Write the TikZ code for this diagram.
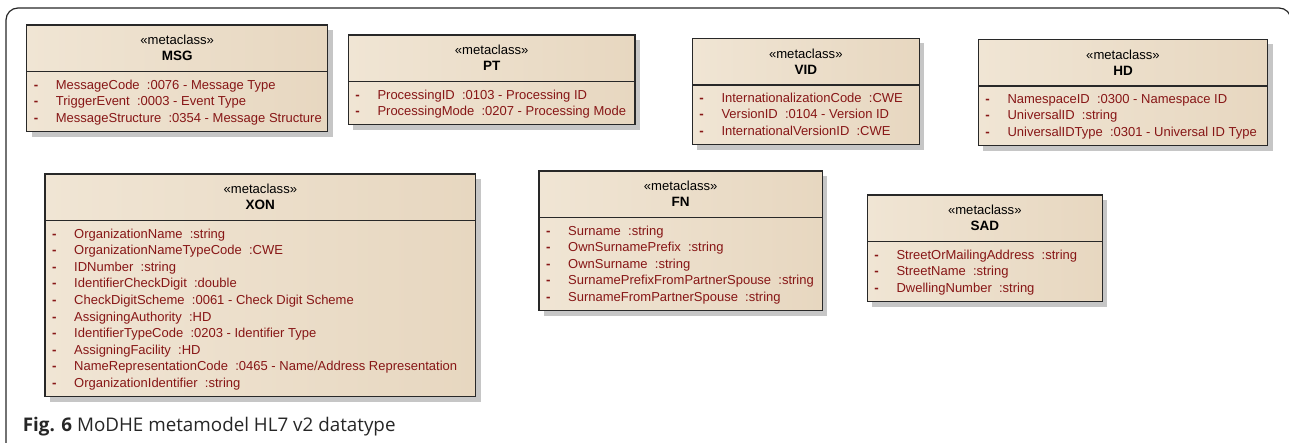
\documentclass[tikz,border=0pt]{standalone}
\usepackage{fontspec}
\setmainfont{Liberation Sans}
\newfontfamily\capfont{Open Sans}
\usetikzlibrary{calc}

\definecolor{attrred}{RGB}{135,22,22}
\definecolor{boxleft}{RGB}{240,229,212}
\definecolor{boxmid}{RGB}{249,243,235}
\definecolor{boxright}{RGB}{231,215,192}
\definecolor{shadowgray}{RGB}{198,198,198}
\definecolor{edgegray}{RGB}{40,40,40}

\tikzset{
  classbox/.style={draw=edgegray, line width=1.1pt, left color=boxleft,
    middle color=boxmid, right color=boxright, anchor=north west,
    inner sep=0pt, outer sep=0pt},
  boxshadow/.style={fill=shadowgray},
  sepline/.style={draw=edgegray, line width=1.1pt},
  stereo/.style={font=\fontsize{13.1}{15}\selectfont, inner sep=0pt, anchor=mid},
  clsname/.style={font=\fontsize{13.5}{15}\selectfont\bfseries, inner sep=0pt, anchor=mid},
  attr/.style={font=\fontsize{13}{15}\selectfont, text=attrred, inner sep=0pt, anchor=mid west},
  attrdash/.style={font=\fontsize{13.3}{15}\selectfont\bfseries, text=attrred, inner sep=0pt, anchor=mid},
  frame/.style={draw=black!85, line width=1.2pt, rounded corners=12pt},
  caption/.style={font=\capfont\fontsize{18.8}{22}\selectfont, text=black!85, inner sep=0pt, anchor=base west}
}

% #1 id, #2 class name, #3 left, #4 top, #5 width, #6 attribute count, #7 attributes
\newcommand{\metaclassbox}[7]{%
  \fill[boxshadow] (#3+5,#4+5) rectangle (#3+#5+5,#4+46.7+16.6*#6+10+5);
  \node[classbox, minimum width=#5pt, minimum height={(46.7+16.6*#6+10)*1pt}] (#1) at (#3,#4) {};
  \draw[sepline] ($(#1.north west)+(0,46.7)$) -- ($(#1.north east)+(0,46.7)$);
  \node[stereo] (#1-st) at ($(#1.north)+(0,17.3)$) {«metaclass»};
  \node[clsname] (#1-name) at ($(#1.north)+(0,33.3)$) {#2};
  \foreach \t [count=\i] in {#7} {
    \node[attrdash] (#1-d\i) at ($(#1.north west)+(9.3,{46.7+14.7+16.6*(\i-1)})$) {-};
    \node[attr] (#1-a\i) at ($(#1.north west)+(29,{46.7+14.7+16.6*(\i-1)})$) {\t};
  }%
}

\begin{document}
\begin{tikzpicture}[x=1pt,y=-1pt]
\useasboundingbox (0,0) rectangle (1289,442);
\clip (0,0) rectangle (1289,442);

% outer frame, open at the right and bottom
\draw[frame] (6,460) -- (6,8) -- (1291,8) -- (1291,460);

\metaclassbox{msg}{MSG}{26.7}{25}{301}{3}{%
  MessageCode~~:0076 - Message Type,
  TriggerEvent~~:0003 - Event Type,
  MessageStructure~~:0354 - Message Structure}

\metaclassbox{pt}{PT}{348.3}{35}{286.7}{2}{%
  ProcessingID~~:0103 - Processing ID,
  ProcessingMode~~:0207 - Processing Mode}

\metaclassbox{vid}{VID}{692.3}{38.3}{227}{3}{%
  InternationalizationCode~~:CWE,
  VersionID~~:0104 - Version ID,
  InternationalVersionID~~:CWE}

\metaclassbox{hd}{HD}{978.3}{39.3}{289.4}{3}{%
  NamespaceID~~:0300 - Namespace ID,
  UniversalID~~:string,
  UniversalIDType~~:0301 - Universal ID Type}

\metaclassbox{xon}{XON}{45}{174}{430.7}{10}{%
  OrganizationName~~:string,
  OrganizationNameTypeCode~~:CWE,
  IDNumber~~:string,
  IdentifierCheckDigit~~:double,
  CheckDigitScheme~~:0061 - Check Digit Scheme,
  AssigningAuthority~~:HD,
  IdentifierTypeCode~~:0203 - Identifier Type,
  AssigningFacility~~:HD,
  NameRepresentationCode~~:0465 - Name/Address Representation,
  OrganizationIdentifier~~:string}

\metaclassbox{fn}{FN}{539}{171}{283.3}{5}{%
  Surname~~:string,
  OwnSurnamePrefix~~:string,
  OwnSurname~~:string,
  SurnamePrefixFromPartnerSpouse~~:string,
  SurnameFromPartnerSpouse~~:string}

\metaclassbox{sad}{SAD}{867.3}{195}{235}{3}{%
  StreetOrMailingAddress~~:string,
  StreetName~~:string,
  DwellingNumber~~:string}

\node[caption] (cap) at (22.7,431.7) {\textbf{Fig. 6} MoDHE metamodel HL7 v2 datatype};
\end{tikzpicture}
\end{document}
